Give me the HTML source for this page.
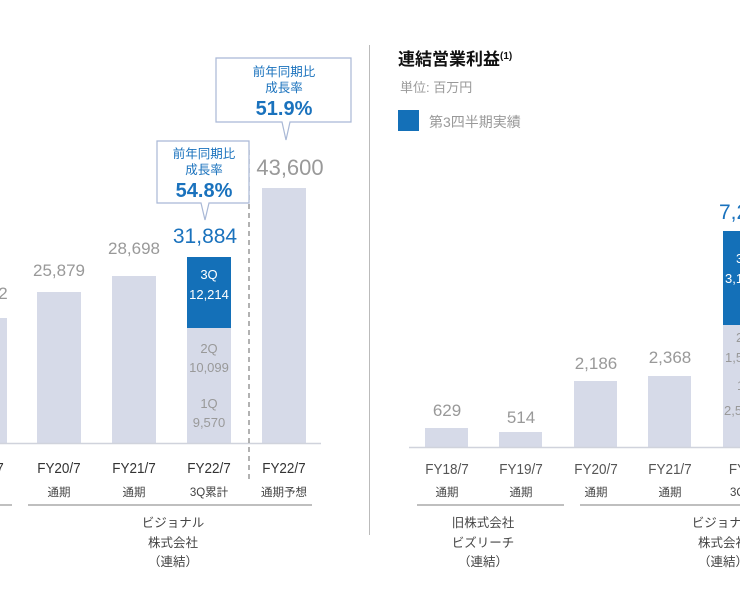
<!DOCTYPE html>
<html><head><meta charset="utf-8"><style>
html,body{margin:0;padding:0;background:#fff;width:740px;height:600px;overflow:hidden}
svg{display:block}
text{font-family:"Liberation Sans","Noto Sans CJK JP",sans-serif}
</style></head><body>
<svg width="740" height="600" viewBox="0 0 740 600">
<g fill="#d6dae8">
<rect x="-10" y="318" width="17" height="125"/>
<rect x="37" y="292" width="44" height="151"/>
<rect x="112" y="276" width="44" height="167"/>
<rect x="187" y="328" width="44" height="115"/>
<rect x="262" y="188" width="44" height="255"/>
<rect x="425" y="428" width="43" height="19"/>
<rect x="499" y="432" width="43" height="15"/>
<rect x="574" y="381" width="43" height="66"/>
<rect x="648" y="376" width="43" height="71"/>
<rect x="723" y="325" width="43" height="122"/>
</g>
<rect x="187" y="257" width="44" height="71" fill="#1470b8"/>
<rect x="723" y="231" width="43" height="94" fill="#1470b8"/>
<line x1="0" y1="443.5" x2="321" y2="443.5" stroke="#d0d3dc" stroke-width="1.5"/>
<line x1="409" y1="447.5" x2="740" y2="447.5" stroke="#d0d3dc" stroke-width="1.5"/>
<line x1="249" y1="150" x2="249" y2="482" stroke="#888" stroke-width="1.3" stroke-dasharray="5,4"/>
<line x1="369.5" y1="45" x2="369.5" y2="535" stroke="#bbb" stroke-width="1"/>
<g font-size="17" fill="#999" text-anchor="middle">
<text x="3" y="299">2</text>
<text x="59" y="276">25,879</text>
<text x="134" y="254">28,698</text>
<text x="447" y="416">629</text>
<text x="521" y="423">514</text>
<text x="596" y="369">2,186</text>
<text x="670" y="363">2,368</text>
</g>
<text x="290" y="175" font-size="22" fill="#999" text-anchor="middle">43,600</text>
<text x="205" y="243" font-size="21" fill="#1a72bd" text-anchor="middle">31,884</text>
<text x="719" y="219" font-size="21" fill="#1a72bd">7,2</text>
<g font-size="13" fill="#fff" text-anchor="middle">
<text x="209" y="279">3Q</text><text x="209" y="299">12,214</text>
</g>
<g font-size="13" fill="#fff">
<text x="736" y="263">3Q</text><text x="725" y="283">3,1</text>
</g>
<g font-size="13" fill="#999" text-anchor="middle">
<text x="209" y="353">2Q</text><text x="209" y="372">10,099</text>
<text x="209" y="408">1Q</text><text x="209" y="427">9,570</text>
</g>
<g font-size="13" fill="#999">
<text x="736" y="342">2Q</text><text x="725" y="362">1,5</text>
<text x="737" y="390">1Q</text><text x="724" y="415">2,5</text>
</g>
<g fill="#fff" stroke="#a9b8d6" stroke-width="1.2">
<path d="M157,141 H249 V203 H209 L205,220 L201,203 H157 Z"/>
<path d="M216,58 H351 V122 H290 L286,140 L282,122 H216 Z"/>
</g>
<g fill="#1a72bd" text-anchor="middle">
<text x="204" y="158" font-size="12.5">前年同期比</text>
<text x="204" y="174" font-size="12.5">成長率</text>
<text x="204" y="197" font-size="20" font-weight="bold">54.8%</text>
<text x="284" y="76" font-size="12.5">前年同期比</text>
<text x="284" y="92" font-size="12.5">成長率</text>
<text x="284" y="115" font-size="20" font-weight="bold">51.9%</text>
</g>
<text x="398" y="65" font-size="17" font-weight="bold" fill="#111">連結営業利益<tspan font-size="10" dy="-6">(1)</tspan></text>
<text x="400" y="92" font-size="13" fill="#999">単位: 百万円</text>
<rect x="398" y="110" width="21" height="21" fill="#1470b8"/>
<text x="429" y="127" font-size="14" fill="#999">第3四半期実績</text>
<g font-size="15" fill="#333" text-anchor="middle" transform="scale(0.9,1)">
<text x="0" y="473">7</text>
<text x="65.5" y="473">FY20/7</text>
<text x="148.9" y="473">FY21/7</text>
<text x="232.2" y="473">FY22/7</text>
<text x="315.5" y="473">FY22/7</text>
</g>
<g font-size="15" fill="#555" text-anchor="middle" transform="scale(0.9,1)">
<text x="496.7" y="474">FY18/7</text>
<text x="578.9" y="474">FY19/7</text>
<text x="662.2" y="474">FY20/7</text>
<text x="744.4" y="474">FY21/7</text>
<text x="834" y="474">FY22/7</text>
</g>
<g font-size="11.5" fill="#444" text-anchor="middle">
<text x="59" y="496">通期</text><text x="134" y="496">通期</text><text x="209" y="496">3Q累計</text><text x="284" y="496">通期予想</text>
<text x="447" y="496">通期</text><text x="521" y="496">通期</text><text x="596" y="496">通期</text><text x="670" y="496">通期</text>
</g>
<text x="730" y="496" font-size="11.5" fill="#444">3Q累計</text>
<g stroke="#aaa" stroke-width="1.5">
<line x1="0" y1="505" x2="12" y2="505"/>
<line x1="28" y1="505" x2="312" y2="505"/>
<line x1="417" y1="505" x2="564" y2="505"/>
<line x1="580" y1="505" x2="740" y2="505"/>
</g>
<g font-size="12.5" fill="#444" text-anchor="middle">
<text x="173" y="527">ビジョナル</text><text x="173" y="547">株式会社</text><text x="173" y="566">（連結）</text>
<text x="483" y="527">旧株式会社</text><text x="483" y="547">ビズリーチ</text><text x="483" y="566">（連結）</text>
<text x="723" y="527">ビジョナル</text><text x="723" y="547">株式会社</text><text x="723" y="566">（連結）</text>
</g>
</svg>
</body></html>
